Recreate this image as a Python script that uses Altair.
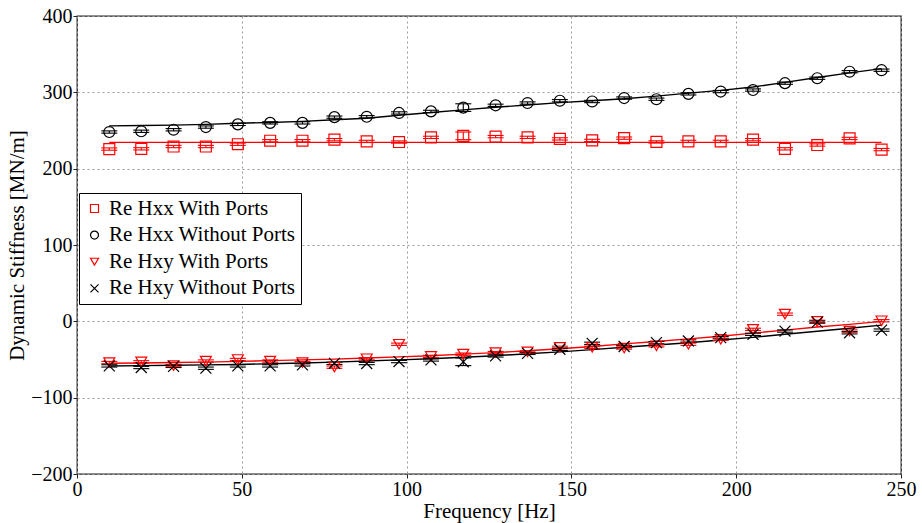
import altair as alt
import pandas as pd

freq = [9.8, 19.5, 29.3, 39.1, 48.8, 58.6, 68.4, 78.1, 87.9, 97.7, 107.4, 117.2, 127.0,
        136.7, 146.5, 156.3, 166.0, 175.8, 185.5, 195.3, 205.1, 214.8, 224.6, 234.4, 244.1]

series_names = ["Re Hxx With Ports", "Re Hxx Without Ports", "Re Hxy With Ports", "Re Hxy Without Ports"]

hxx_wp = [225.7, 226, 229, 229, 232, 236.6, 236.6, 238, 235.7, 234.9, 241, 243, 242,
          241, 239, 237, 240, 235, 235.7, 235.7, 238, 226, 231, 239.6, 225]
hxx_wop = [248, 249, 251, 254.5, 258, 260, 260, 267.5, 268, 273, 275, 280, 283,
           286, 289, 288, 292.5, 291, 298, 301, 303, 312, 318.5, 327, 329]
hxy_wp = [-54, -53, -58, -52, -50, -52, -54, -60, -49, -30, -46, -43, -41,
          -40, -34, -34, -35, -32, -30, -23.5, -10.5, 9.4, 0, -12.7, 0.8]
hxy_wop = [-58.4, -60.5, -59, -61.4, -58.4, -58.4, -57, -55, -55.3, -52.7, -50.6, -53, -45.3,
           -42, -36.6, -28.8, -33, -27.9, -25.7, -21.3, -17, -12.7, -1, -15, -11.5]

err_hxx_wp = [1.5, 1.5, 1.5, 1.5, 1.5, 1.5, 1.5, 1.5, 1.5, 1.5, 1.5, 5, 1.5,
              1.5, 1.5, 1.5, 1.5, 1.5, 1.5, 1.5, 1.5, 1.5, 1.5, 1.5, 1.5]
err_hxx_wop = [1.5, 1.5, 1.5, 1.5, 1.5, 1.5, 1.5, 1.5, 1.5, 1.5, 1.5, 5, 1.5,
               1.5, 1.5, 1.5, 1.5, 1.5, 1.5, 1.5, 1.5, 1.5, 1.5, 1.5, 1.5]
err_hxy_wp = [1.5, 1.5, 1.5, 1.5, 1.5, 1.5, 1.5, 1.5, 1.5, 1.5, 1.5, 1.5, 1.5,
              1.5, 1.5, 1.5, 1.5, 1.5, 1.5, 1.5, 1.5, 1.5, 1.5, 1.5, 1.5]
err_hxy_wop = [1.5, 1.5, 1.5, 1.5, 1.5, 1.5, 1.5, 1.5, 1.5, 1.5, 1.5, 5, 1.5,
               1.5, 1.5, 1.5, 1.5, 1.5, 1.5, 1.5, 1.5, 1.5, 1.5, 1.5, 1.5]

fit_hxx_wp = [234.5] * 25
fit_hxx_wop = [256, 256.5, 257, 258, 259.5, 260.5, 262, 264, 266, 270, 273.5, 277, 280.5,
               283.5, 286.5, 289, 291.5, 295, 299, 302.5, 307, 313, 319.5, 325.5, 331]
fit_hxy_wp = [-55, -54.5, -54, -53.5, -52.5, -51.5, -50.5, -49.5, -48, -46.5, -45, -43, -41,
              -38.5, -36, -33, -29.5, -26.5, -23, -19.5, -15.5, -11.5, -7.5, -4, 0]
fit_hxy_wop = [-58.5, -58, -57.5, -57, -56.5, -55.5, -54.5, -53.5, -52, -50.5, -49, -47, -45,
               -42.5, -40, -37, -34, -31, -28, -24.5, -21, -17, -13, -9, -5]

RED = "#ff0000"
BLK = "#000000"
colors = [RED, BLK, RED, BLK]
shapes = ["square", "circle", "triangle-down", "M-1,-1L1,1M-1,1L1,-1"]

vals = [hxx_wp, hxx_wop, hxy_wp, hxy_wop]
errs = [err_hxx_wp, err_hxx_wop, err_hxy_wp, err_hxy_wop]
fits = [fit_hxx_wp, fit_hxx_wop, fit_hxy_wp, fit_hxy_wop]

rows = []
for name, col, v, e, f in zip(series_names, colors, vals, errs, fits):
    for i in range(len(freq)):
        rows.append({"freq": freq[i], "value": v[i], "lo": v[i] - e[i], "hi": v[i] + e[i],
                     "fit": f[i], "series": name, "lc": col})
df = pd.DataFrame(rows)

FONT = "Liberation Serif"
xs = alt.Scale(domain=[0, 250], nice=False)
ys = alt.Scale(domain=[-200, 400], nice=False)

base = alt.Chart(df)

lines = base.mark_line(strokeWidth=1.4).encode(
    x=alt.X("freq:Q", scale=xs,
            axis=alt.Axis(title="Frequency [Hz]", values=[0, 50, 100, 150, 200, 250])),
    y=alt.Y("fit:Q", scale=ys,
            axis=alt.Axis(title="Dynamic Stiffness [MN/m]", values=[-200, -100, 0, 100, 200, 300, 400])),
    stroke=alt.Stroke("lc:N", scale=None),
    detail="series:N",
)

ebar = base.mark_rule(strokeWidth=1.1).encode(
    x="freq:Q", y="lo:Q", y2="hi:Q",
    stroke=alt.Stroke("lc:N", scale=None),
)
cap_lo = base.mark_rule(strokeWidth=1.1, xOffset=-8, x2Offset=8).encode(
    x="freq:Q", x2="freq:Q", y="lo:Q",
    stroke=alt.Stroke("lc:N", scale=None),
)
cap_hi = base.mark_rule(strokeWidth=1.1, xOffset=-8, x2Offset=8).encode(
    x="freq:Q", x2="freq:Q", y="hi:Q",
    stroke=alt.Stroke("lc:N", scale=None),
)

leg = alt.Legend(orient="none", legendX=2, legendY=177, title=None,
                 fillColor="white", strokeColor="black", padding=5, rowPadding=4.6,
                 labelFont=FONT, labelFontSize=21, labelColor="black", labelOffset=4,
                 symbolSize=64, symbolStrokeWidth=1.2, labelLimit=0)

points = base.mark_point(filled=False, strokeWidth=1.2, size=120, opacity=1).encode(
    x="freq:Q", y="value:Q",
    color=alt.Color("series:N", scale=alt.Scale(domain=series_names, range=colors), legend=leg),
    shape=alt.Shape("series:N", scale=alt.Scale(domain=series_names, range=shapes), legend=leg),
)

chart = alt.layer(lines, ebar, cap_lo, cap_hi, points).properties(
    width=824, height=458,
    autosize=alt.AutoSizeParams(type="none"),
    padding={"left": 77, "top": 16, "right": 21, "bottom": 49},
).configure_view(
    stroke="#222222", strokeWidth=1.3
).configure_axis(
    labelFont=FONT, labelFontSize=20, labelColor="black", labelFlush=False,
    titleFont=FONT, titleFontSize=21, titleFontWeight="normal", titleColor="black",
    domain=False, ticks=True, tickSize=4, tickColor="#222222", labelPadding=1,
    grid=True, gridColor="#9a9a9a", gridDash=[2, 3], gridWidth=1,
).configure_axisY(
    titlePadding=3,
).configure_axisX(
    titlePadding=1,
)

chart.save("out.html", embed_options={"renderer": "svg", "actions": False})
